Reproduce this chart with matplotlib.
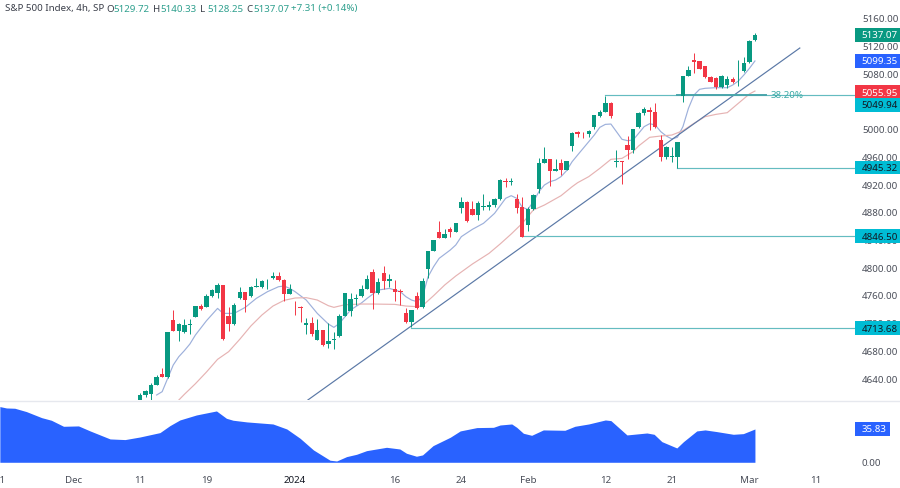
import matplotlib
matplotlib.use("Agg")
import matplotlib.pyplot as plt
from matplotlib.patches import Rectangle
from matplotlib.transforms import blended_transform_factory

plt.rcParams['font.family'] = ['Noto Sans', 'DejaVu Sans']

# candles, index 0 is the first 4h bar of Dec 11 (2 bars per trading day)
opens = [4600, 4616.9, 4618.3, 4631.3, 4646.7, 4643.3, 4724.7, 4709.3, 4707.4, 4718, 4730, 4745.4, 4744.5, 4759.4, 4764.2, 4775.3,
         4731.5, 4718.9, 4757, 4765.6, 4759.4, 4772.9, 4772.9, 4781.5, 4785.9, 4789.2, 4783.5, 4763.2, 4746, 4744.5, 4718.5, 4720.9,
         4696.3, 4710.8, 4690.5, 4695.8, 4702.6, 4731.5, 4738.7, 4755, 4760.3, 4770, 4794.6, 4763.7, 4792.6, 4782, 4769.5, 4767.1,
         4734.9, 4722.3, 4760.4, 4743.5, 4799.4, 4825.4, 4852.8, 4844.1, 4857.1, 4852.8, 4887.5, 4895.7, 4886, 4876.9, 4888.4, 4888.4,
         4891.3, 4899.5, 4926, 4925, 4899.5, 4888, 4862, 4885.1, 4914.9, 4952.5, 4957.3, 4940.4, 4951.5, 4942.4, 4976.6, 4996.3,
         4995.8, 4993.4, 5003.5, 5020.4, 5026.2, 5039.1, 4953.9, 4954.9, 4978.5, 4970.8, 5003.5, 5024.2, 5028.1, 5026.2, 4985.2, 4961.2,
         4961.2, 4961.2, 5048.3, 5077.7, 5100.3, 5098.9, 5092.1, 5075.7, 5074.3, 5061.3, 5064.7, 5072.9, 5084.4, 5085.4, 5098.4, 5129.72]
highs = [4619.3, 4624, 4633.7, 4645.3, 4656.3, 4708, 4739.6, 4720.5, 4726.2, 4726.2, 4746, 4748.3, 4762.3, 4769.5, 4778.2, 4776,
         4743.5, 4749.3, 4773.3, 4766, 4774.3, 4785.4, 4783, 4783.9, 4794, 4794, 4784, 4776.7, 4753.1, 4745.9, 4727.6, 4729,
         4726.6, 4711.2, 4721.3, 4708.3, 4733.9, 4764.7, 4763.7, 4762.8, 4775.8, 4790.2, 4798.4, 4785.4, 4803.2, 4791.2, 4783, 4769.5,
         4742, 4739.7, 4765.2, 4786.4, 4825.5, 4841.3, 4868.7, 4857.1, 4859, 4865.8, 4903.4, 4897.6, 4897.6, 4896.6, 4906.7, 4897.6,
         4901.9, 4928.4, 4930.3, 4930.3, 4906.7, 4903.4, 4888, 4907.2, 4959.7, 4974.6, 4958, 4957.3, 4957.3, 4954.9, 4997.3, 4998.7,
         4996.3, 4999.7, 5021.8, 5028.6, 5048.8, 5039.6, 4970.8, 4955.4, 4991.5, 5001.6, 5025.2, 5032.4, 5033.4, 5038.2, 4992.4, 4976.6,
         4975.6, 4982, 5077.7, 5092.1, 5110.4, 5099.8, 5092.6, 5077.7, 5075.7, 5079.1, 5077.7, 5075.7, 5100.8, 5104.6, 5129.7, 5140.33]
lows = [4596, 4614, 4609.6, 4631, 4642.5, 4642, 4709, 4694.9, 4707, 4705, 4729, 4740, 4743.5, 4758.9, 4757, 4697,
        4709.3, 4717.5, 4756, 4737.2, 4758.9, 4772.4, 4771, 4769.5, 4784.9, 4782, 4752.6, 4762.7, 4732, 4722.8, 4705, 4702.1,
        4695.8, 4688, 4685.2, 4682.8, 4701.1, 4731, 4731, 4746.9, 4758.9, 4769.5, 4740.6, 4762.8, 4769.5, 4773.4, 4752.2, 4746.9,
        4721.3, 4715.6, 4741.6, 4743, 4786.4, 4824.9, 4843.2, 4843.7, 4844.6, 4851.8, 4880.3, 4866.8, 4876.4, 4869.7, 4884.1, 4884.1,
        4888.9, 4898.6, 4916.9, 4919.7, 4879.3, 4844.6, 4853.8, 4884.1, 4908.2, 4951.5, 4918.8, 4940, 4935.2, 4941.9, 4969.3, 4990,
        4987.6, 4990, 5000.6, 5019, 5025.2, 5016.5, 4946.7, 4921.2, 4957.3, 4966, 5002, 5021.3, 4999.7, 5002.1, 4955.4, 4957.3,
        4953.9, 4945.3, 5040.6, 5077.2, 5081.5, 5087.3, 5074.3, 5069, 5058.4, 5060.8, 5059.9, 5067.1, 5063.2, 5084, 5096.9, 5128.25]
closes = [4616.9, 4622.6, 4631.8, 4643.3, 4642.9, 4707.4, 4709.3, 4719.9, 4718, 4718.9, 4745.4, 4740.6, 4759.9, 4768, 4775.3, 4697.7,
          4719.4, 4746.4, 4765.2, 4754.6, 4772.9, 4774.8, 4781.5, 4782, 4788.8, 4783, 4763.2, 4770.4, 4745, 4743, 4720.9, 4704.5,
          4710.8, 4688.6, 4694.9, 4697.7, 4731.5, 4763.7, 4755, 4757, 4770, 4783.9, 4763.7, 4780.6, 4782, 4784.4, 4765.7, 4766.1,
          4721.8, 4739.2, 4742.5, 4781, 4824.9, 4840.3, 4844.1, 4849.9, 4852.8, 4864.9, 4895.7, 4867.7, 4877.4, 4893.7, 4889.4, 4890.8,
          4899.5, 4927.9, 4925, 4926, 4887, 4845.6, 4885.6, 4906.3, 4952.5, 4957.8, 4940.4, 4942.8, 4942.4, 4954.4, 4995.8, 4994.4,
          4994.8, 4998.2, 5021.3, 5026.2, 5039.1, 5020.4, 4954.9, 4953, 4970.8, 5000.6, 5024.7, 5030.5, 5026.2, 5004.5, 4961.2, 4975.1,
          4962.1, 4981.9, 5077.2, 5086.3, 5098.4, 5087.8, 5075.7, 5069.5, 5061.3, 5077.7, 5072.9, 5068.5, 5085.4, 5096, 5128.7, 5137.07]

fast_idx = [3, 4, 5, 6, 7, 8, 9, 10, 12, 14, 15, 17, 19, 21, 23, 25, 26, 27, 28, 30, 32, 34, 35, 36, 37, 38, 40, 41,
            43, 45, 47, 48, 49, 50, 51, 52, 53, 54, 56, 57, 58, 60, 62, 63, 64, 66, 67, 68, 69, 70, 71, 72, 73, 74, 75, 76, 77, 78, 79,
            80, 81, 82, 83, 84, 85, 86, 87, 88, 89, 90, 91, 92, 93, 94, 95, 96, 97, 98, 99, 100, 101, 102, 104, 106, 107, 108, 109, 110, 111]
fast_ma = [4616.9, 4621.7, 4641, 4660.2, 4672.2, 4680.9, 4690.5, 4703.5, 4724.2, 4742, 4734.8, 4734.8, 4743.5, 4756.5, 4766.1, 4773.3, 4774.3, 4771, 4766.1, 4754.1, 4734.8, 4719.4, 4714.6, 4720.4, 4730, 4739.7, 4750, 4756.5,
           4768.5, 4770.9, 4766.1, 4758.9, 4754.1, 4751.7, 4758.9, 4787.8, 4802.3, 4814.3, 4826.3, 4833.6, 4845.6, 4856.2, 4864.9, 4872, 4879.3, 4901, 4904.8, 4901, 4888, 4885, 4896, 4910.6, 4920.2, 4925, 4927.4, 4932.3, 4941, 4953.9, 4963.6,
           4973.2, 4982.8, 4992.4, 5003.5, 5007.8, 5008.3, 4997.3, 4986.2, 4984.3, 4985.2, 4994.8, 5004.5, 5008.8, 5006.9, 4997.3, 4991, 4986.7, 4989.1, 5004.5, 5031, 5050.2, 5058.4, 5059.9, 5060.8, 5060.8, 5064.7, 5070.4, 5079.1, 5088.7, 5099.35]
slow_idx = [7, 8, 10, 12, 14, 16, 18, 20, 22, 24, 26, 28, 30, 32, 34, 35, 37, 40, 42, 46, 48, 50, 51, 53, 55, 57, 60, 63, 65, 67, 69, 71, 73, 76, 78, 79,
            81, 83, 85, 87, 89, 90, 92, 94, 96, 98, 100, 102, 104, 106, 108, 110, 111]
slow_ma = [4609.6, 4617.8, 4633.2, 4650.1, 4668.4, 4679.5, 4697.3, 4716.5, 4732.4, 4745.4, 4753.6, 4757, 4757.5, 4754.1, 4745.9, 4743.5, 4747.3, 4748.3, 4748.3, 4747.8, 4745.4, 4744.5, 4745.9, 4760.4, 4775.8, 4788.8, 4806.1, 4821.5, 4835, 4849.4, 4864.9, 4884.1, 4891.3, 4904.8, 4917.8, 4923.6,
           4932.3, 4944.3, 4957.3, 4958.7, 4968.4, 4976.6, 4989.1, 4991, 4992.4, 4998.7, 5009.3, 5018.9, 5022.3, 5024.7, 5038.2, 5051.7, 5055.95]

# lower pane
pane_idx = [-25.3, -24.1, -22.6, -20.5, -17.75, -16, -13.8, -11.1, -9, -5.4, -2.7, 0, 3.6, 5.4, 7.2, 10.2, 13.8, 15.6, 16.8, 19.3, 24, 26.5, 28.9, 31.3, 34.3, 35.5, 37.3, 39.1, 40.9, 44.5, 46.9, 48.1, 49.9, 51, 52.9,
            56, 57.8, 60.8, 63.8, 65, 67.1, 68, 69.2, 70.7, 72.8, 76.7, 78.5, 81, 84, 85, 87.9, 91.5, 92.8, 94.2, 96.9, 98.1, 100.5, 102, 104.1, 107.1, 108.9, 111]
pane_vals = [59.9, 58.4, 58.1, 54.5, 48, 45.2, 38.7, 39.1, 33.7, 25.1, 24.4, 27.2, 31.9, 39.4, 45.5, 50.9, 55.2, 47.3, 45.2, 43.4, 41.2, 35.8, 25.8, 13.3, 2.2, 1.4, 6.1, 8.6, 12.5, 16.1, 14.3, 9.7, 6.5, 7.9, 17.9,
             26.9, 33.7, 37.3, 37.6, 40.1, 41.2, 37.6, 31.2, 29, 34.8, 34.4, 38.7, 41.2, 45.5, 44.8, 29.4, 31.5, 30.1, 22.2, 15.4, 22.2, 33.7, 34.8, 33, 30.1, 30.8, 35.83]

# levels: price, first bar
levels = [4713.68, 4846.50, 4945.32, 5049.94]
level_start = [49, 69, 97, 84]
trend_x = [30.3, 119.1]
trend_y = [4609.7, 5118.1]
fib_x = [97, 113]
fib_y = 5049.94

price_ticks = [5160, 5120, 5080, 5040, 5000, 4960, 4920, 4880, 4840, 4800, 4760, 4720, 4680, 4640]
date_ticks = [-25.2, -12, 0, 12, 28, 46, 58, 70, 84, 96, 110, 122]
date_labels = ['21', 'Dec', '11', '19', '2024', '16', '24', 'Feb', '12', '21', 'Mar', '11']

# value, price where the tag sits (tags get pushed apart), fill, text colour
tags = [(5137.07, 5137.07, '#089981', 'white'),
        (5099.35, 5099.35, '#2962FF', 'white'),
        (5055.95, 5054.5, '#F23645', 'white'),
        (5049.94, 5035.8, '#00BCD4', '#131722'),
        (4945.32, 4945.32, '#00BCD4', '#131722'),
        (4846.50, 4846.50, '#00BCD4', '#131722'),
        (4713.68, 4713.68, '#00BCD4', '#131722')]

GREEN = '#089981'
RED = '#F23645'
TEAL = '#64bcc0'
AXIS_TXT = '#4a4e59'
W, H = 900, 488

fig = plt.figure(figsize=(W / 100, H / 100), dpi=100, facecolor='white')
ax = fig.add_axes([0, (H - 400) / H, 855 / W, 400 / H])
pane = fig.add_axes([0, (H - 470) / H, 855 / W, 69 / H])

bar_px = 5.54
xlim = (-140 / bar_px, (855 - 140) / bar_px)

# candles
idx = list(range(len(closes)))
colors = [GREEN if c >= o else RED for o, c in zip(opens, closes)]
ax.vlines(idx, lows, highs, colors=colors, linewidth=0.7, zorder=3)
ax.bar(idx, [abs(c - o) for o, c in zip(opens, closes)], bottom=[min(o, c) for o, c in zip(opens, closes)],
       width=0.8, color=colors, linewidth=0, zorder=4)

ax.plot(fast_idx, fast_ma, color='#9db0db', linewidth=0.85, zorder=2)
ax.plot(slow_idx, slow_ma, color='#e6b3b3', linewidth=0.85, zorder=2)
ax.plot(trend_x, trend_y, color='#5a78a6', linewidth=0.85, zorder=2)

for price, start in zip(levels, level_start):
    ax.plot([start, xlim[1]], [price, price], color=TEAL, linewidth=0.85, zorder=2)
ax.plot(fib_x, [fib_y, fib_y], color='#4aa5ab', linewidth=1.4, zorder=2)
ax.text(113.9, fib_y, '38.20%', color='#3aa9a5', fontsize=7, va='center', ha='left', zorder=5)

ax.set_xlim(xlim)
ax.set_ylim(5160 - 381 * 1.4444, 5160 + 19 * 1.4444)
ax.set_xticks([])
ax.yaxis.tick_right()
ax.set_yticks(price_ticks)
ax.set_yticklabels([f'{t:.2f}' for t in price_ticks])
ax.tick_params(axis='y', length=0, pad=5, labelsize=7, labelcolor=AXIS_TXT)
for s in ax.spines.values():
    s.set_visible(False)

# price tags
trans = blended_transform_factory(ax.transAxes, ax.transData)
tag_h = 13.4 * 1.4444
for value, y, fill, txt in tags:
    ax.add_patch(Rectangle((1, y - tag_h / 2), 46 / 855, tag_h, transform=trans, facecolor=fill,
                           edgecolor='none', clip_on=False, zorder=6))
    ax.text(1 + 6.5 / 855, y, f'{value:.2f}', transform=trans, color=txt, fontsize=7,
            va='center_baseline', ha='left', zorder=7, clip_on=False)

# lower pane
pane.fill_between(pane_idx, pane_vals, 0, color='#2962FF', linewidth=0)
pane.set_xlim(xlim)
pane.set_ylim(-8.3, 65.9)
pane.yaxis.tick_right()
pane.set_yticks([0, 40])
pane.set_yticklabels(['0.00', '40.00'])
pane.tick_params(axis='y', length=0, pad=5, labelsize=7, labelcolor=AXIS_TXT)
pane.set_xticks(date_ticks)
pane.set_xticklabels(date_labels)
pane.tick_params(axis='x', length=0, pad=4, labelsize=7, labelcolor=AXIS_TXT)
for lab in pane.get_xticklabels():
    if lab.get_text() == '2024':
        lab.set_fontweight('bold')
        lab.set_color('#131722')
for s in pane.spines.values():
    s.set_visible(False)

trans2 = blended_transform_factory(pane.transAxes, pane.transData)
pane.add_patch(Rectangle((1, 35.83 - 7.2), 35 / 855, 14.4, transform=trans2, facecolor='#2962FF',
                         edgecolor='none', clip_on=False, zorder=6))
pane.text(1 + 6.5 / 855, 35.83, '35.83', transform=trans2, color='white', fontsize=7,
          va='center_baseline', ha='left', zorder=7, clip_on=False)

# pane separator
fig.add_artist(plt.Line2D([0, 1], [(H - 400.5) / H] * 2, color='#e6e8ee', linewidth=1))

# header
def header(x, s, color):
    fig.text(x / W, (H - 9) / H, s, color=color, fontsize=7, va='center', ha='left')

header(5, 'S&P 500 Index, 4h, SP', '#3a3e49')
for x, k, v in [(106, 'O', '5129.72'), (153, 'H', '5140.33'), (200, 'L', '5128.25'), (246, 'C', '5137.07')]:
    header(x, k, '#3a3e49')
    header(x + 7.5, v, '#2fa08e')
header(291, '+7.31 (+0.14%)', '#2fa08e')

fig.savefig('out.png', dpi=100, facecolor='white')
